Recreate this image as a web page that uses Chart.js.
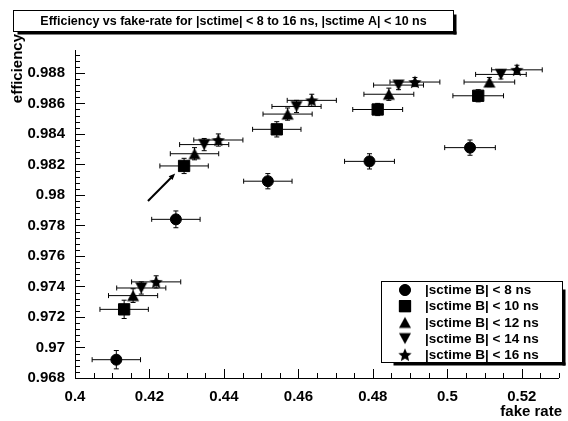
<!DOCTYPE html>
<html>
<head>
<meta charset="utf-8">
<script src="https://cdn.jsdelivr.net/npm/chart.js@4.4.0/dist/chart.umd.min.js"></script>
<style>
  html, body { margin: 0; padding: 0; background: #fff; }
</style>
</head>
<body>
<canvas id="myChart" width="568" height="421"></canvas>
<script>
const chartTitle = "Efficiency vs fake-rate for |sctime| < 8 to 16 ns, |sctime A| < 10 ns";
const xTitle = "fake rate";
const yTitle = "efficiency";

const seriesLabels = [
  "|sctime B| < 8 ns",
  "|sctime B| < 10 ns",
  "|sctime B| < 12 ns",
  "|sctime B| < 14 ns",
  "|sctime B| < 16 ns",
];

// |sctime B| < 8 ns
const fakeB8 = [0.4111, 0.4271, 0.4518, 0.4791, 0.5061];
const effB8 = [0.9692, 0.9784, 0.9809, 0.9822, 0.9831];
const fakeErrB8 = [0.0065, 0.0065, 0.0065, 0.0067, 0.0068];
const effErrB8 = [0.0006, 0.00055, 0.0005, 0.0005, 0.0005];

// |sctime B| < 10 ns
const fakeB10 = [0.4132, 0.4293, 0.4542, 0.4813, 0.5083];
const effB10 = [0.9725, 0.9819, 0.9843, 0.9856, 0.9865];
const fakeErrB10 = [0.0065, 0.0065, 0.0065, 0.0067, 0.0068];
const effErrB10 = [0.0006, 0.0005, 0.0005, 0.0004, 0.0004];

// |sctime B| < 12 ns
const fakeB12 = [0.4156, 0.4321, 0.4571, 0.4843, 0.5113];
const effB12 = [0.9734, 0.9827, 0.9853, 0.9866, 0.9874];
const fakeErrB12 = [0.0066, 0.0065, 0.0066, 0.0067, 0.0068];
const effErrB12 = [0.00045, 0.0004, 0.0004, 0.0004, 0.0003];

// |sctime B| < 14 ns
const fakeB14 = [0.4178, 0.4347, 0.4595, 0.4869, 0.5144];
const effB14 = [0.9739, 0.9833, 0.9858, 0.9872, 0.9879];
const fakeErrB14 = [0.0066, 0.0066, 0.0066, 0.0067, 0.0068];
const effErrB14 = [0.0004, 0.0004, 0.0004, 0.0003, 0.0003];

// |sctime B| < 16 ns
const fakeB16 = [0.4218, 0.4385, 0.4636, 0.4913, 0.5187];
const effB16 = [0.9743, 0.9836, 0.9862, 0.9874, 0.9882];
const fakeErrB16 = [0.0066, 0.0066, 0.0066, 0.0067, 0.0068];
const effErrB16 = [0.0004, 0.0004, 0.0004, 0.0003, 0.0003];

const xTicks = [0.4, 0.42, 0.44, 0.46, 0.48, 0.5, 0.52];
const yTicks = [0.968, 0.97, 0.972, 0.974, 0.976, 0.978, 0.98, 0.982, 0.984, 0.986, 0.988];

// arrow pointing at the |sctime B| < 10 ns point
const arrowFrom = [0.4196, 0.9796];
const arrowTo = [0.4269, 0.9814];

const FONT = "'Liberation Sans', Arial, Helvetica, sans-serif";

function makeMarker(kind) {
  const c = document.createElement("canvas");
  c.width = 14;
  c.height = 14;
  const g = c.getContext("2d");
  g.fillStyle = "#000";
  g.beginPath();
  if (kind === "up") {
    g.moveTo(7, 1.5);
    g.lineTo(13, 12.5);
    g.lineTo(1, 12.5);
  } else if (kind === "down") {
    g.moveTo(1, 1.5);
    g.lineTo(13, 1.5);
    g.lineTo(7, 12.5);
  } else {
    for (let i = 0; i < 10; i++) {
      const r = i % 2 === 0 ? 7 : 3.2;
      const a = -Math.PI / 2 + (i * Math.PI) / 5;
      const px = 7 + r * Math.cos(a);
      const py = 7.6 + r * Math.sin(a);
      if (i === 0) g.moveTo(px, py);
      else g.lineTo(px, py);
    }
  }
  g.closePath();
  g.fill();
  return c;
}

function toPoints(xs, ys) {
  return xs.map((x, i) => ({ x: x, y: ys[i] }));
}

const datasets = [
  { label: seriesLabels[0], data: toPoints(fakeB8, effB8), xErr: fakeErrB8, yErr: effErrB8,
    pointStyle: "circle", pointRadius: 5.5 },
  { label: seriesLabels[1], data: toPoints(fakeB10, effB10), xErr: fakeErrB10, yErr: effErrB10,
    pointStyle: "rect", pointRadius: 8 },
  { label: seriesLabels[2], data: toPoints(fakeB12, effB12), xErr: fakeErrB12, yErr: effErrB12,
    pointStyle: makeMarker("up"), pointRadius: 6 },
  { label: seriesLabels[3], data: toPoints(fakeB14, effB14), xErr: fakeErrB14, yErr: effErrB14,
    pointStyle: makeMarker("down"), pointRadius: 6 },
  { label: seriesLabels[4], data: toPoints(fakeB16, effB16), xErr: fakeErrB16, yErr: effErrB16,
    pointStyle: makeMarker("star"), pointRadius: 6 },
];
datasets.forEach((ds) => {
  ds.backgroundColor = "#000";
  ds.borderColor = "#000";
  ds.pointBorderWidth = 1;
  ds.showLine = false;
});

const errorBars = {
  id: "errorBars",
  beforeDatasetsDraw(chart) {
    const { ctx } = chart;
    const x = chart.scales.x;
    const y = chart.scales.y;
    ctx.save();
    ctx.strokeStyle = "#000";
    ctx.lineWidth = 1;
    chart.data.datasets.forEach((ds) => {
      ds.data.forEach((p, i) => {
        const px = x.getPixelForValue(p.x);
        const py = y.getPixelForValue(p.y);
        const x0 = x.getPixelForValue(p.x - ds.xErr[i]);
        const x1 = x.getPixelForValue(p.x + ds.xErr[i]);
        const y0 = y.getPixelForValue(p.y - ds.yErr[i]);
        const y1 = y.getPixelForValue(p.y + ds.yErr[i]);
        ctx.beginPath();
        ctx.moveTo(x0, py); ctx.lineTo(x1, py);
        ctx.moveTo(x0, py - 2.5); ctx.lineTo(x0, py + 2.5);
        ctx.moveTo(x1, py - 2.5); ctx.lineTo(x1, py + 2.5);
        ctx.moveTo(px, y0); ctx.lineTo(px, y1);
        ctx.moveTo(px - 2.5, y0); ctx.lineTo(px + 2.5, y0);
        ctx.moveTo(px - 2.5, y1); ctx.lineTo(px + 2.5, y1);
        ctx.stroke();
      });
    });
    ctx.restore();
  },
};

const rootFrame = {
  id: "rootFrame",
  afterDraw(chart) {
    const { ctx, chartArea: a } = chart;
    const x = chart.scales.x;
    const y = chart.scales.y;
    ctx.save();
    ctx.strokeStyle = "#000";
    ctx.fillStyle = "#000";
    ctx.lineWidth = 1;

    // axes and inside ticks
    ctx.beginPath();
    ctx.moveTo(a.left + 0.5, a.top);
    ctx.lineTo(a.left + 0.5, a.bottom + 0.5);
    ctx.lineTo(a.right, a.bottom + 0.5);
    for (let v = 0.968; v <= 0.9895 + 1e-9; v += 0.0004) {
      const py = Math.round(y.getPixelForValue(v)) + 0.5;
      const major = Math.abs(Math.round(v / 0.002) * 0.002 - v) < 1e-7;
      ctx.moveTo(a.left, py);
      ctx.lineTo(a.left + (major ? 10 : 5), py);
    }
    for (let v = 0.4; v <= 0.53 + 1e-9; v += 0.005) {
      const px = Math.round(x.getPixelForValue(v)) + 0.5;
      const major = Math.abs(Math.round(v / 0.02) * 0.02 - v) < 1e-7;
      ctx.moveTo(px, a.bottom);
      ctx.lineTo(px, a.bottom - (major ? 9 : 5));
    }
    ctx.stroke();

    // arrow
    const ax0 = x.getPixelForValue(arrowFrom[0]);
    const ay0 = y.getPixelForValue(arrowFrom[1]);
    const ax1 = x.getPixelForValue(arrowTo[0]);
    const ay1 = y.getPixelForValue(arrowTo[1]);
    const ang = Math.atan2(ay1 - ay0, ax1 - ax0);
    ctx.lineWidth = 2;
    ctx.beginPath();
    ctx.moveTo(ax0, ay0);
    ctx.lineTo(ax1 - 3 * Math.cos(ang), ay1 - 3 * Math.sin(ang));
    ctx.stroke();
    ctx.beginPath();
    ctx.moveTo(ax1, ay1);
    ctx.lineTo(ax1 - 7 * Math.cos(ang - 0.4), ay1 - 7 * Math.sin(ang - 0.4));
    ctx.lineTo(ax1 - 7 * Math.cos(ang + 0.4), ay1 - 7 * Math.sin(ang + 0.4));
    ctx.closePath();
    ctx.fill();
    ctx.lineWidth = 1;

    // axis titles
    ctx.font = "bold 15px " + FONT;
    ctx.textAlign = "right";
    ctx.textBaseline = "alphabetic";
    ctx.fillText(xTitle, 562, 416);
    ctx.save();
    ctx.translate(22, 34);
    ctx.rotate(-Math.PI / 2);
    ctx.fillText(yTitle, 0, 0);
    ctx.restore();

    // title box
    const tb = { l: 13.5, t: 10.5, r: 453.5, b: 31.5 };
    ctx.fillRect(tb.l + 4, tb.b, tb.r - tb.l - 1, 3);
    ctx.fillRect(tb.r, tb.t + 4, 3, tb.b - tb.t - 1);
    ctx.fillStyle = "#fff";
    ctx.fillRect(tb.l, tb.t, tb.r - tb.l, tb.b - tb.t);
    ctx.strokeRect(tb.l, tb.t, tb.r - tb.l, tb.b - tb.t);
    ctx.fillStyle = "#000";
    ctx.font = "bold 12.5px " + FONT;
    ctx.textAlign = "center";
    ctx.textBaseline = "middle";
    ctx.fillText(chartTitle, (tb.l + tb.r) / 2, 21.5);

    // legend box
    const lb = { l: 381.5, t: 281.5, r: 562.5, b: 362.5 };
    ctx.fillRect(lb.l + 12, lb.b, lb.r - lb.l - 9, 3);
    ctx.fillRect(lb.r, lb.t + 8, 3, lb.b - lb.t - 5);
    ctx.fillStyle = "#fff";
    ctx.fillRect(lb.l, lb.t, lb.r - lb.l, lb.b - lb.t);
    ctx.strokeRect(lb.l, lb.t, lb.r - lb.l, lb.b - lb.t);
    ctx.fillStyle = "#000";
    ctx.font = "bold 13.5px " + FONT;
    ctx.textAlign = "left";
    ctx.textBaseline = "middle";
    chart.data.datasets.forEach((ds, i) => {
      const ly = 290 + i * 16.2;
      Chart.helpers.drawPoint(ctx, {
        pointStyle: ds.pointStyle,
        radius: ds.pointRadius,
        borderWidth: 1,
        rotation: 0,
      }, 405, ly);
      ctx.fill();
      ctx.fillText(ds.label, 425, ly + 0.5);
    });
    ctx.restore();
  },
};

const ctx = document.getElementById("myChart");
const myChart = new Chart(ctx, {
  type: "scatter",
  data: { datasets: datasets },
  plugins: [errorBars, rootFrame],
  options: {
    responsive: false,
    animation: false,
    devicePixelRatio: 1,
    events: [],
    layout: { padding: { left: 0, right: 5, top: 50, bottom: 0 } },
    plugins: {
      legend: { display: false },
      title: { display: false },
      tooltip: { enabled: false },
    },
    scales: {
      x: {
        type: "linear",
        min: 0.4,
        max: 0.53,
        border: { display: false },
        grid: { display: false, drawTicks: false },
        afterBuildTicks: (s) => { s.ticks = xTicks.map((v) => ({ value: v })); },
        afterFit: (s) => { s.height = 43; },
        ticks: {
          autoSkip: false,
          maxRotation: 0,
          padding: 10,
          color: "#000",
          font: { family: FONT, size: 15, weight: "bold" },
          callback: (v) => String(v),
        },
      },
      y: {
        type: "linear",
        min: 0.968,
        max: 0.9895,
        border: { display: false },
        grid: { display: false, drawTicks: false },
        afterBuildTicks: (s) => { s.ticks = yTicks.map((v) => ({ value: v })); },
        afterFit: (s) => { s.width = 75; },
        ticks: {
          autoSkip: false,
          padding: 10,
          color: "#000",
          font: { family: FONT, size: 15, weight: "bold" },
          callback: (v) => String(v),
        },
      },
    },
  },
});
</script>
</body>
</html>
